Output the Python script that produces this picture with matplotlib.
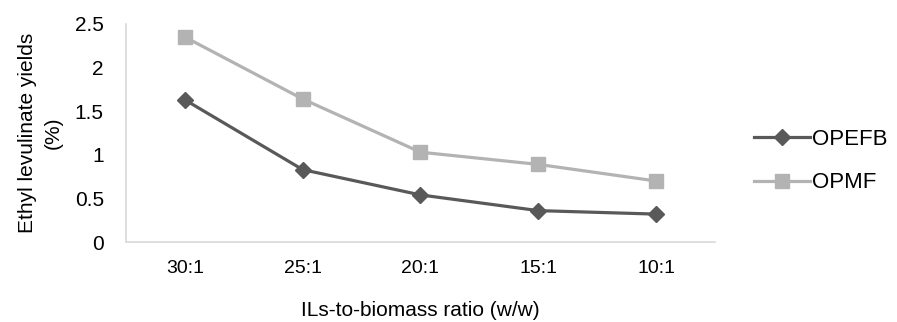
import matplotlib.pyplot as plt

plt.rcParams['font.family'] = ['Liberation Sans', 'DejaVu Sans']

ratios = ['30:1', '25:1', '20:1', '15:1', '10:1']
opefb = [1.63, 0.83, 0.54, 0.36, 0.32]
opmf = [2.35, 1.64, 1.03, 0.89, 0.70]
y_ticks = [0, 0.5, 1, 1.5, 2, 2.5]

fig = plt.figure(figsize=(8.97, 3.22), dpi=100)
ax = fig.add_axes([0.1405, 0.2484, 0.6565, 0.6771])

x = range(len(ratios))
ax.plot(x, opefb, color='#595959', marker='D', markersize=8.5, linewidth=2.3, label='OPEFB')
ax.plot(x, opmf, color='#b3b3b3', marker='s', markersize=10.5, linewidth=2.3, label='OPMF')

ax.set_xlim(-0.5, len(ratios) - 0.5)
ax.set_ylim(0, 2.5)
ax.set_yticks(y_ticks)
ax.set_yticklabels(['0', '0.5', '1', '1.5', '2', '2.5'], fontsize=15)
ax.set_xticks(list(x))
ax.set_xticklabels(ratios, fontsize=14)
ax.tick_params(axis='y', length=0, pad=16)
ax.tick_params(axis='x', length=0, pad=13)

for side in ['top', 'right']:
    ax.spines[side].set_visible(False)
for side in ['left', 'bottom']:
    ax.spines[side].set_color('#d9d9d9')
    ax.spines[side].set_linewidth(1.2)

ax.set_xlabel('ILs-to-biomass ratio (w/w)', fontsize=15)
ax.xaxis.set_label_coords(0.5, -0.27)
ax.set_ylabel('Ethyl levulinate yields\n(%)', fontsize=15, linespacing=1.45)
ax.yaxis.set_label_coords(-0.108, 0.5)

ax.legend(loc='center left', bbox_to_anchor=(1.033, 0.37), frameon=False,
          fontsize=16, handlelength=2.5, handletextpad=0.1, labelspacing=1.0)

fig.savefig('out.png', dpi=100)
